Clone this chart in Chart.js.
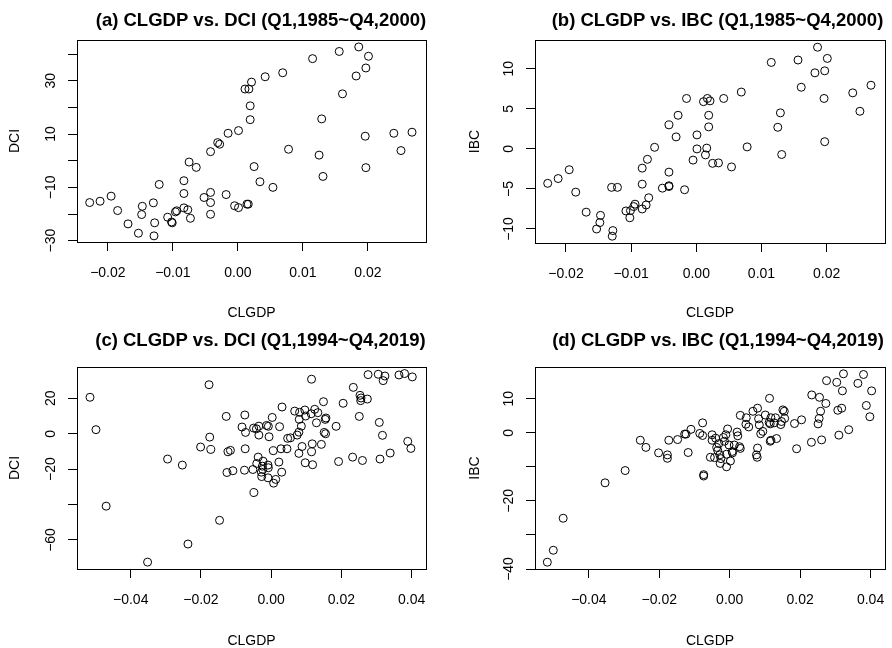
<!DOCTYPE html>
<html>
<head>
<meta charset="utf-8">
<title>CLGDP vs. DCI / IBC</title>
<script src="https://cdn.jsdelivr.net/npm/chart.js@4.4.1/dist/chart.umd.min.js"></script>
<style>
  html, body { margin: 0; padding: 0; background: #fff; }
  #page { position: relative; width: 892px; height: 648px; overflow: hidden; background: #fff; }
  #page canvas { position: absolute; }
</style>
</head>
<body>
<div id="page">
  <canvas id="chartA"></canvas>
  <canvas id="chartB"></canvas>
  <canvas id="chartC"></canvas>
  <canvas id="chartD"></canvas>
</div>
<script>
// ====================================================================
// DATA
// ====================================================================

// Q1,1985 ~ Q4,2000 (same CLGDP for panels a and b)
const clgdpAB = [
  -0.0228, -0.0212, -0.0195, -0.0185, -0.0169, -0.0153, -0.0147, -0.0148, -0.0130, -0.0128,
  -0.0129, -0.0121, -0.0108, -0.0102, -0.0101, -0.0096, -0.0094, -0.0083, -0.0083, -0.0083,
  -0.0077, -0.0075, -0.0073, -0.0064, -0.0052, -0.0042, -0.0042, -0.0042, -0.0042, -0.0031,
  -0.0028, -0.0018, -0.0015, -0.0005, 0.0001, 0.0001, 0.0011, 0.0014, 0.0016, 0.0017,
  0.0019, 0.0019, 0.0021, 0.0025, 0.0034, 0.0042, 0.0054, 0.0069, 0.0078, 0.0115,
  0.0125, 0.0129, 0.0131, 0.0156, 0.0161, 0.0182, 0.0186, 0.0197, 0.0201, 0.0196,
  0.0197, 0.0240, 0.0251, 0.0268
];
const dciA = [
  -15.7, -15.2, -13.3, -18.7, -23.7, -27.2, -17.1, -20.2, -15.8, -23.3,
  -28.2, -8.9, -21.2, -23.0, -23.3, -19.2, -18.8, -7.5, -12.3, -17.7,
  -18.4, -0.5, -21.6, -2.5, -13.8, 3.4, -11.9, -15.7, -20.1, 6.8,
  6.2, -12.7, 10.3, -16.9, 11.3, -17.6, 26.9, -16.3, -16.3, 26.9,
  15.4, 20.6, 29.5, -2.2, -7.9, 31.5, -10.0, 33.0, 4.3, 38.3,
  2.1, 15.7, -5.9, 41.0, 25.1, 31.8, 42.7, 34.8, 39.2, 9.2,
  -2.6, 10.3, 3.8, 10.7
];
const ibcB = [
  -4.3, -3.7, -2.6, -5.4, -7.9, -10.0, -8.3, -9.2, -4.8, -10.2,
  -10.9, -4.8, -7.75, -8.6, -7.7, -7.2, -6.9, -7.5, -4.4, -2.4,
  -7.0, -1.3, -6.1, 0.2, -4.9, 3.0, -2.9, -4.6, -4.7, 1.5,
  4.2, -5.1, 6.3, -1.4, 1.75, 0.0, 5.9, -0.75, 0.1, 6.3,
  4.2, 2.75, 6.0, -1.8, -1.75, 6.3, -2.25, 7.1, 0.25, 10.8,
  2.7, 4.5, -0.7, 11.1, 7.7, 9.5, 12.7, 9.75, 11.3, 6.3,
  0.9, 7.0, 4.7, 7.95
];

// Q1,1994 ~ Q4,2019
const clgdpC = [
  -0.0516, -0.0499, -0.0470, -0.0352, -0.0295, -0.0253, -0.0237, -0.0201, -0.0177, -0.0175,
  -0.0172, -0.0147, -0.0128, -0.0126, -0.0123, -0.0116, -0.0109, -0.0083, -0.0075, -0.0073,
  -0.0074, -0.0076, -0.0052, -0.0049, -0.0050, -0.0042, -0.0037, -0.0035, -0.0035, -0.0041,
  -0.0028, -0.0027, -0.0023, -0.0025, -0.0024, -0.0013, -0.0008, -0.0006, -0.0009, -0.0008,
  -0.0009, 0.0003, 0.0006, 0.0007, 0.0013, 0.0022, 0.0024, 0.0028, 0.0030, 0.0031,
  0.0045, 0.0047, 0.0055, 0.0067, 0.0074, 0.0079, 0.0079, 0.0081, 0.0080, 0.0086,
  0.0088, 0.0096, 0.0097, 0.0098, 0.0115, 0.0114, 0.0115, 0.0117, 0.0118, 0.0124,
  0.0129, 0.0133, 0.0143, 0.0149, 0.0151, 0.0154, 0.0155, 0.0156, 0.0185, 0.0192,
  0.0205, 0.0232, 0.0234, 0.0251, 0.0253, 0.0255, 0.0256, 0.0260, 0.0274, 0.0276,
  0.0305, 0.0308, 0.0310, 0.0317, 0.0319, 0.0324, 0.0339, 0.0364, 0.0380, 0.0389,
  0.0398, 0.0402
];
const dciC = [
  20.6, 2.3, -40.9, -72.5, -14.3, -17.7, -62.3, -7.5, 27.7, -1.9,
  -8.9, -48.9, 9.8, -21.9, -10.2, -9.4, -20.9, 3.8, 10.6, 0.75,
  -8.5, -20.6, -20.2, -33.2, 3.2, 2.8, -13.2, 4.3, -0.75, -16.8,
  -21.7, -24.2, -15.5, -18.3, -20.2, 4.7, 4.2, -1.7, -17.7, -19.2,
  -24.9, 9.2, -9.6, -27.9, -25.8, -16.0, 4.0, -8.5, -21.7, 15.1,
  -8.5, -2.6, -2.3, 12.8, -0.75, 0.9, -11.1, 12.1, 8.1, 4.3,
  -7.2, 13.4, -16.4, 10.0, 30.8, 11.3, -10.2, -5.7, -17.5, 13.8,
  6.2, 11.9, -6.0, 18.1, 0.75, 8.1, 0.0, 8.9, 4.2, -15.7,
  17.2, -13.2, 26.2, 9.8, 21.7, 18.7, 20.2, -15.1, 19.6, 33.4,
  33.6, 6.4, -14.3, -0.9, 30.0, 32.6, -10.9, 33.2, 34.0, -4.3,
  -8.3, 32.1
];
const clgdpD = [
  -0.0518, -0.0501, -0.0473, -0.0354, -0.0297, -0.0254, -0.0238, -0.0202, -0.0177, -0.0177,
  -0.0173, -0.0148, -0.0128, -0.0124, -0.0118, -0.0110, -0.0085, -0.0077, -0.0077, -0.0074,
  -0.0074, -0.0055, -0.0050, -0.0050, -0.0043, -0.0040, -0.0037, -0.0034, -0.0031, -0.0028,
  -0.0027, -0.0025, -0.0018, -0.0015, -0.0011, -0.0009, -0.0009, -0.0006, -0.0002, 0.0002,
  0.0007, 0.0008, 0.0013, 0.0021, 0.0023, 0.0028, 0.0030, 0.0030, 0.0046, 0.0047,
  0.0054, 0.0066, 0.0079, 0.0079, 0.0078, 0.0076, 0.0082, 0.0084, 0.0088, 0.0094,
  0.0101, 0.0113, 0.0112, 0.0115, 0.0117, 0.0117, 0.0115, 0.0126, 0.0130, 0.0133,
  0.0145, 0.0147, 0.0151, 0.0155, 0.0156, 0.0184, 0.0190, 0.0204, 0.0232, 0.0233,
  0.0251, 0.0254, 0.0255, 0.0258, 0.0261, 0.0273, 0.0275, 0.0304, 0.0307, 0.0310,
  0.0318, 0.0320, 0.0323, 0.0338, 0.0364, 0.0380, 0.0388, 0.0398, 0.0403
];
const ibcD = [
  -38.0, -34.5, -25.1, -14.7, -11.1, -2.2, -4.3, -5.9, -6.5, -7.5,
  -2.2, -2.0, -0.4, -0.4, -5.8, 1.0, -0.2, 2.9, -0.8, -12.3,
  -12.7, -7.2, -0.6, -2.2, -7.3, -1.6, -4.3, -5.2, -3.2, -6.5,
  -9.0, -7.6, -1.4, -2.5, -0.6, -6.3, -10.0, 1.1, -3.6, -8.3,
  -5.5, -5.9, -3.6, 0.2, -0.9, -4.1, -4.6, 5.1, 2.5, 4.4,
  1.7, 6.3, 7.2, -4.5, -7.2, -6.5, 4.1, 2.3, -0.3, 0.4,
  5.2, 10.1, 3.0, 2.6, 4.4, -2.2, -2.5, 2.9, 4.4, -1.7,
  2.4, 3.3, 6.7, 6.3, 4.2, 2.7, -4.7, 3.8, -2.8, 11.1,
  2.6, 4.2, 10.4, 6.3, -2.1, 8.6, 15.3, 14.8, 6.6, -0.7,
  7.2, 12.3, 17.3, 0.9, 14.5, 17.1, 8.0, 4.7, 12.3
];

// Ticks (R skips some labels when they would overlap -> empty string)
const xTicksAB = [-0.02, -0.01, 0, 0.01, 0.02];
const xTickLabelsAB = ['\u22120.02', '\u22120.01', '0.00', '0.01', '0.02'];
const yTicksA = [-30, -20, -10, 0, 10, 20, 30, 40];
const yTickLabelsA = ['\u221230', '', '\u221210', '', '10', '', '30', ''];
const yTicksB = [-10, -5, 0, 5, 10];
const yTickLabelsB = ['\u221210', '\u22125', '0', '5', '10'];
const xTicksCD = [-0.04, -0.02, 0, 0.02, 0.04];
const xTickLabelsCD = ['\u22120.04', '\u22120.02', '0.00', '0.02', '0.04'];
const yTicksC = [-60, -40, -20, 0, 20];
const yTickLabelsC = ['\u221260', '', '\u221220', '0', '20'];
const yTicksD = [-40, -30, -20, -10, 0, 10];
const yTickLabelsD = ['\u221240', '', '\u221220', '', '0', '10'];

// ====================================================================
// PANEL LAYOUT (page pixels)
// ====================================================================

const FONT = "'Liberation Sans', Arial, Helvetica, sans-serif";

const panels = [
  {
    id: 'chartA', title: '(a) CLGDP vs. DCI (Q1,1985~Q4,2000)', yName: 'DCI',
    xs: clgdpAB, ys: dciA,
    xRange: [-0.02475, 0.02895], yRange: [-30.5, 45.3],
    xTicks: xTicksAB, xLabels: xTickLabelsAB, yTicks: yTicksA, yLabels: yTickLabelsA,
    canvas: { left: 0, top: 0, width: 522, height: 324 },
    area: { left: 77, top: 40, right: 426, bottom: 242 },
    titleMid: 21, xNameMid: 313.5, yNameMid: 15.3
  },
  {
    id: 'chartB', title: '(b) CLGDP vs. IBC (Q1,1985~Q4,2000)', yName: 'IBC',
    xs: clgdpAB, ys: ibcB,
    xRange: [-0.02475, 0.02895], yRange: [-11.75, 13.6],
    xTicks: xTicksAB, xLabels: xTickLabelsAB, yTicks: yTicksB, yLabels: yTickLabelsB,
    canvas: { left: 446, top: 0, width: 543, height: 324 },
    area: { left: 535, top: 40, right: 885, bottom: 243 },
    titleMid: 21, xNameMid: 313.5, yNameMid: 475.3
  },
  {
    id: 'chartC', title: '(c) CLGDP vs. DCI (Q1,1994~Q4,2019)', yName: 'DCI',
    xs: clgdpC, ys: dciC,
    xRange: [-0.0553, 0.0441], yRange: [-76.4, 37.7],
    xTicks: xTicksCD, xLabels: xTickLabelsCD, yTicks: yTicksC, yLabels: yTickLabelsC,
    canvas: { left: 0, top: 324, width: 521, height: 324 },
    area: { left: 77, top: 367, right: 426, bottom: 569 },
    titleMid: 341, xNameMid: 641, yNameMid: 15.3
  },
  {
    id: 'chartD', title: '(d) CLGDP vs. IBC (Q1,1994~Q4,2019)', yName: 'IBC',
    xs: clgdpD, ys: ibcD,
    xRange: [-0.0553, 0.0441], yRange: [-40.0, 19.3],
    xTicks: xTicksCD, xLabels: xTickLabelsCD, yTicks: yTicksD, yLabels: yTickLabelsD,
    canvas: { left: 446, top: 324, width: 544, height: 324 },
    area: { left: 535, top: 367, right: 885, bottom: 569 },
    titleMid: 341, xNameMid: 641, yNameMid: 475.3
  }
];

// draws the closed box around the plot region (R's box())
const plotBox = {
  id: 'plotBox',
  afterDraw(chart) {
    const a = chart.chartArea;
    const ctx = chart.ctx;
    ctx.save();
    ctx.strokeStyle = '#000';
    ctx.lineWidth = 1;
    ctx.strokeRect(a.left + 0.5, a.top + 0.5, a.right - a.left, a.bottom - a.top);
    ctx.restore();
  }
};

function createPanel(p) {
  const canvas = document.getElementById(p.id);
  const c = p.canvas;
  canvas.width = c.width;
  canvas.height = c.height;
  canvas.style.left = c.left + 'px';
  canvas.style.top = c.top + 'px';

  const yAxisWidth = p.area.left - c.left;
  const rightGap = c.left + c.width - p.area.right;
  const xAxisHeight = c.top + c.height - p.area.bottom;
  const titleBox = p.area.top - c.top;
  const titlePadTop = p.titleMid - c.top - 10;

  const points = p.xs.map((x, i) => ({ x: x, y: p.ys[i] }));

  return new Chart(canvas.getContext('2d'), {
    type: 'scatter',
    data: {
      datasets: [{
        data: points,
        pointStyle: 'circle',
        pointRadius: 4,
        pointHoverRadius: 4,
        borderWidth: 1,
        borderColor: '#000',
        backgroundColor: 'rgba(0,0,0,0)'
      }]
    },
    options: {
      responsive: false,
      animation: false,
      devicePixelRatio: 1,
      layout: { padding: 0 },
      plugins: {
        legend: { display: false },
        tooltip: { enabled: false },
        title: {
          display: true,
          text: p.title,
          color: '#000',
          font: { family: FONT, size: 18.5, weight: 'bold', lineHeight: '20px' },
          padding: { top: titlePadTop, bottom: titleBox - titlePadTop - 20 }
        }
      },
      scales: {
        x: {
          type: 'linear',
          position: 'bottom',
          min: p.xRange[0],
          max: p.xRange[1],
          afterBuildTicks: s => { s.ticks = p.xTicks.map(v => ({ value: v })); },
          afterFit: s => { s.height = xAxisHeight; },
          ticks: {
            autoSkip: false,
            maxRotation: 0,
            padding: 14,
            color: '#000',
            font: { family: FONT, size: 14 },
            callback: (v, i) => p.xLabels[i]
          },
          grid: { drawOnChartArea: false, drawTicks: true, tickLength: 9, color: '#000', lineWidth: 1 },
          border: { display: true, color: '#000', width: 1 },
          title: {
            display: true,
            text: 'CLGDP',
            color: '#000',
            font: { family: FONT, size: 14, lineHeight: '14px' },
            padding: { top: 0, bottom: c.top + c.height - p.xNameMid - 7 }
          }
        },
        y: {
          type: 'linear',
          position: 'left',
          min: p.yRange[0],
          max: p.yRange[1],
          afterBuildTicks: s => { s.ticks = p.yTicks.map(v => ({ value: v })); },
          afterFit: s => { s.width = yAxisWidth; },
          ticks: {
            autoSkip: false,
            minRotation: 90,
            maxRotation: 90,
            crossAlign: 'center',
            padding: 5,
            color: '#000',
            font: { family: FONT, size: 14 },
            callback: (v, i) => p.yLabels[i]
          },
          grid: { drawOnChartArea: false, drawTicks: true, tickLength: 9, color: '#000', lineWidth: 1 },
          border: { display: true, color: '#000', width: 1 },
          title: {
            display: true,
            text: p.yName,
            color: '#000',
            font: { family: FONT, size: 14, lineHeight: '14px' },
            padding: { top: p.yNameMid - c.left - 7, bottom: 0 }
          }
        },
        // empty right-hand axis, only used to hold the right margin
        y2: {
          type: 'linear',
          position: 'right',
          display: true,
          afterFit: s => { s.width = rightGap; },
          ticks: { display: false },
          grid: { display: false },
          border: { display: false }
        }
      }
    },
    plugins: [plotBox]
  });
}

document.addEventListener('DOMContentLoaded', function() {
  panels.forEach(p => {
    createPanel(p);
    console.log('✅ panel drawn:', p.id, p.xs.length, 'points');
  });
});
</script>
</body>
</html>
